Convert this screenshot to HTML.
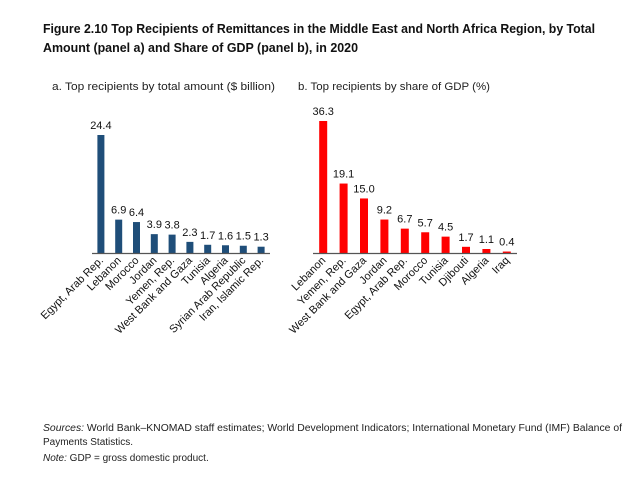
<!DOCTYPE html>
<html><head><meta charset="utf-8"><style>
html,body{margin:0;padding:0;background:#fff;}
svg{display:block;font-family:"Liberation Sans",sans-serif;}
</style></head><body>
<svg id="chart" width="639" height="486" viewBox="0 0 639 486">
<text x="43" y="33" font-size="13" font-weight="bold" fill="#111" textLength="552" lengthAdjust="spacingAndGlyphs">Figure 2.10 Top Recipients of Remittances in the Middle East and North Africa Region, by Total</text>
<text x="43" y="52" font-size="13" font-weight="bold" fill="#111" textLength="315" lengthAdjust="spacingAndGlyphs">Amount (panel a) and Share of GDP (panel b), in 2020</text>
<text x="52" y="90" font-size="11" fill="#222" textLength="223" lengthAdjust="spacingAndGlyphs">a. Top recipients by total amount ($ billion)</text>
<text x="298" y="90" font-size="11" fill="#222" textLength="192" lengthAdjust="spacingAndGlyphs">b. Top recipients by share of GDP (%)</text>
<g id="panelA"></g>
<g id="panelB"></g>
<text x="43" y="431" font-size="10" fill="#222" textLength="579" lengthAdjust="spacingAndGlyphs"><tspan font-style="italic">Sources:</tspan> World Bank–KNOMAD staff estimates; World Development Indicators; International Monetary Fund (IMF) Balance of</text>
<text x="43" y="445" font-size="10" fill="#222">Payments Statistics.</text>
<text x="43" y="461" font-size="10" fill="#222"><tspan font-style="italic">Note:</tspan> GDP = gross domestic product.</text>
</svg>
<script>
const catsA = ["Egypt, Arab Rep.","Lebanon","Morocco","Jordan","Yemen, Rep.","West Bank and Gaza","Tunisia","Algeria","Syrian Arab Republic","Iran, Islamic Rep."];
const valsA = [24.4,6.9,6.4,3.9,3.8,2.3,1.7,1.6,1.5,1.3];
const catsB = ["Lebanon","Yemen, Rep.","West Bank and Gaza","Jordan","Egypt, Arab Rep.","Morocco","Tunisia","Djibouti","Algeria","Iraq"];
const valsB = [36.3,19.1,15.0,9.2,6.7,5.7,4.5,1.7,1.1,0.4];
const NS="http://www.w3.org/2000/svg";
function mk(tag,attrs,parent){const e=document.createElementNS(NS,tag);for(const k in attrs)e.setAttribute(k,attrs[k]);parent.appendChild(e);return e;}
function panel(gid,cats,vals,x0,x1,y0,scale,color,bw,key){
  const g=document.getElementById(gid);
  const step=(x1-x0)/cats.length;
  const xs=i=>x0+step*(i+0.5);
  const ys=v=>y0-v*scale;
  cats.forEach((c,i)=>{
    const cx=xs(i);
    const r=mk('rect',{x:cx-bw/2,y:ys(vals[i]),width:bw,height:y0-ys(vals[i]),fill:color},g);
    
    
    const t=mk('text',{x:cx,y:ys(vals[i])-6,'font-size':11,'text-anchor':'middle',fill:'#111'},g);
    t.textContent=vals[i].toFixed(1);
    
    
    const l=mk('text',{x:cx+3,y:y0+8,'font-size':11,'text-anchor':'end',fill:'#111',transform:'rotate(-45 '+(cx+3)+' '+(y0+8)+')'},g);
    l.textContent=c;
    
    
  });
  const ax=mk('line',{x1:x0,x2:x1,y1:y0+0.5,y2:y0+0.5,stroke:'#555','stroke-width':1.2},g);
  
  
}
panel('panelA',catsA,valsA,92,270,253,118/24.4,'#1f4e79',7,'a');
panel('panelB',catsB,valsB,313,517,253,132/36.3,'#ff0000',8,'b');
</script>
</body></html>
